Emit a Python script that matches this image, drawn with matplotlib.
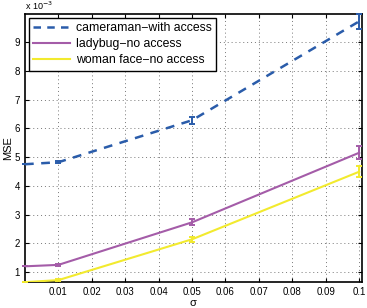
import matplotlib
matplotlib.use('Agg')
import matplotlib.pyplot as plt
from matplotlib.lines import Line2D

plt.rcParams['font.family'] = ['Liberation Sans', 'DejaVu Sans']

sigma = [0.0, 0.01, 0.05, 0.1]

# MSE values (x 10^-3)
cameraman = [4.75, 4.82, 6.28, 9.72]
cameraman_err = [0.0, 0.03, 0.13, 0.25]
ladybug = [1.2, 1.25, 2.73, 5.15]
ladybug_err = [0.0, 0.03, 0.1, 0.22]
woman = [0.65, 0.72, 2.14, 4.49]
woman_err = [0.0, 0.03, 0.08, 0.19]

labels = ['cameraman\u2212with access', 'ladybug\u2212no access', 'woman face\u2212no access']
colors = ['#2a5caa', '#a45ca8', '#f2ea2e']

fig = plt.figure(figsize=(3.67, 3.08), dpi=100)
ax = fig.add_axes([0.068, 0.084, 0.918, 0.871])

series = [(cameraman, cameraman_err), (ladybug, ladybug_err), (woman, woman_err)]
for i, (vals, errs) in enumerate(series):
    kw = dict(linestyle='--', dashes=(3.5, 3), linewidth=1.8) if i == 0 else dict(linewidth=1.5)
    cont = ax.errorbar(sigma, vals, yerr=errs, color=colors[i], capsize=2.5,
                       elinewidth=1.4, capthick=1.4, zorder=3, **kw)
    for art in list(cont.lines[1]) + list(cont.lines[2]):
        art.set_clip_on(False)
        art.set_zorder(3)

ax.set_xlim(0, 0.1008)
ax.set_ylim(0.65, 9.98)
ax.set_xticks([0.01, 0.02, 0.03, 0.04, 0.05, 0.06, 0.07, 0.08, 0.09, 0.1])
ax.set_xticklabels(['0.01', '0.02', '0.03', '0.04', '0.05', '0.06', '0.07', '0.08', '0.09', '0.1'])
ax.set_yticks([1, 2, 3, 4, 5, 6, 7, 8, 9])
ax.tick_params(direction='in', top=True, right=True, labelsize=7, length=3, width=0.8)
ax.grid(True, linestyle=(0, (1, 3)), color='#777777', linewidth=0.7)
for s in ax.spines.values():
    s.set_linewidth(1.2)

ax.set_xlabel('\u03c3', fontsize=8, labelpad=1)
ax.set_ylabel('MSE', fontsize=8, labelpad=1)
ax.text(0.0, 1.006, 'x 10$^{-3}$', transform=ax.transAxes, fontsize=6.5, va='bottom', ha='left')

handles = [Line2D([], [], color=colors[0], linestyle='--', dashes=(3, 2.5), linewidth=1.8),
           Line2D([], [], color=colors[1], linewidth=1.5),
           Line2D([], [], color=colors[2], linewidth=1.5)]
leg = ax.legend(handles, labels, loc='upper left', fontsize=8.8, frameon=True, fancybox=False,
                borderaxespad=0.3, handlelength=3.0, handletextpad=0.5,
                labelspacing=0.35, borderpad=0.35)
leg.get_frame().set_edgecolor('black')
leg.get_frame().set_linewidth(1.0)
leg.get_frame().set_alpha(1)

fig.savefig('out.png', dpi=100)
